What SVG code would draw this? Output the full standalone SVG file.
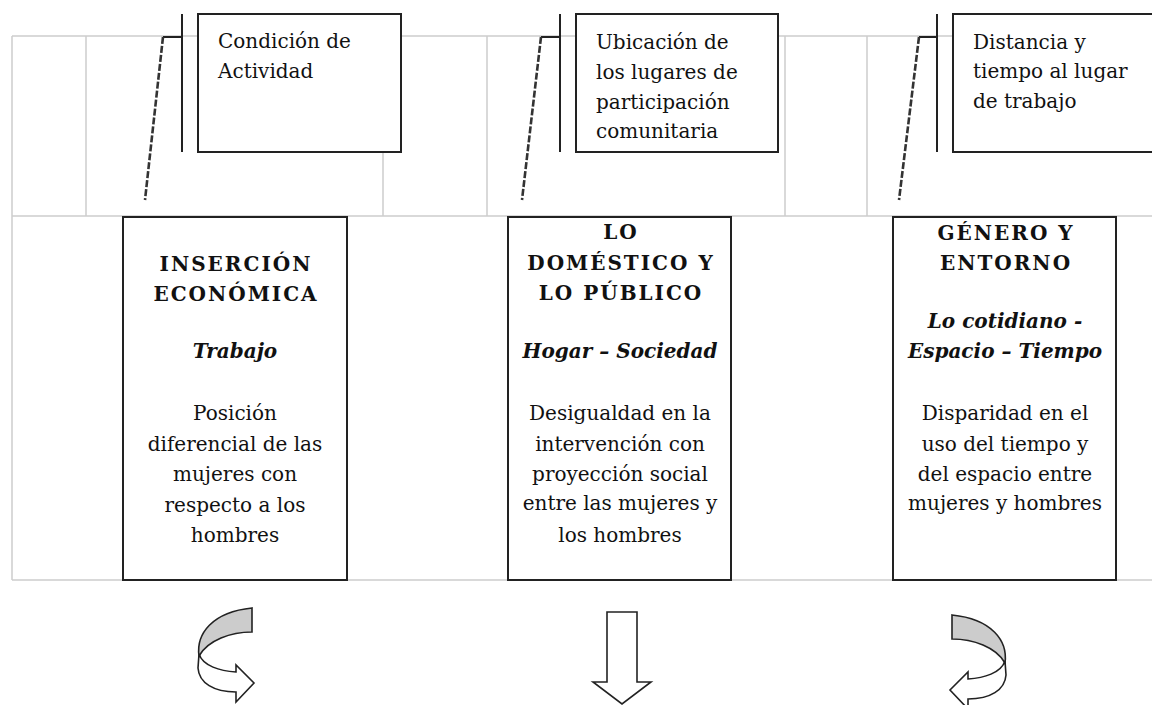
<svg xmlns="http://www.w3.org/2000/svg" width="1152" height="705" viewBox="0 0 1152 705">
<style>
.grid{stroke:#cdcdcd;stroke-width:1.5;fill:none}
.box{fill:#fff;stroke:#222;stroke-width:2}
.t{font-family:"DejaVu Serif",serif;font-size:20px;fill:#111}
.c{text-anchor:middle}
.b{font-weight:bold;letter-spacing:2px}
.bi{font-weight:bold;font-style:italic}
.lead{stroke:#222;stroke-width:2;fill:none}
.dash{stroke:#333;stroke-width:2.6;fill:none;stroke-dasharray:7 2}
.arr{stroke:#222;stroke-width:1.6;stroke-linejoin:miter}
</style>
<g id="grid">
<line class="grid" x1="12" y1="36" x2="1152" y2="36"/>
<line class="grid" x1="12" y1="216" x2="1152" y2="216"/>
<line class="grid" x1="12" y1="580" x2="1152" y2="580"/>
<line class="grid" x1="12" y1="36" x2="12" y2="580"/>
<line class="grid" x1="86" y1="36" x2="86" y2="216"/>
<line class="grid" x1="383" y1="36" x2="383" y2="216"/>
<line class="grid" x1="487" y1="36" x2="487" y2="216"/>
<line class="grid" x1="785" y1="36" x2="785" y2="216"/>
<line class="grid" x1="867" y1="36" x2="867" y2="216"/>
</g>
<g id="connectors">
<line class="lead" x1="182" y1="14" x2="182" y2="152"/>
<line class="lead" x1="163" y1="37" x2="182" y2="37"/>
<line class="dash" x1="163" y1="37" x2="145" y2="200"/>
<line class="lead" x1="560" y1="14" x2="560" y2="152"/>
<line class="lead" x1="541" y1="37" x2="560" y2="37"/>
<line class="dash" x1="541" y1="37" x2="522" y2="200"/>
<line class="lead" x1="937" y1="14" x2="937" y2="152"/>
<line class="lead" x1="919" y1="37" x2="937" y2="37"/>
<line class="dash" x1="919" y1="37" x2="899" y2="200"/>
</g>
<g id="callout1">
<rect class="box" x="198" y="14" width="203" height="138"/>
<text class="t" x="218" y="48">Condición de</text>
<text class="t" x="218" y="78">Actividad</text>
</g>
<g id="callout2">
<rect class="box" x="576" y="14" width="202" height="138"/>
<text class="t" x="596" y="49">Ubicación de</text>
<text class="t" x="596" y="79">los lugares  de</text>
<text class="t" x="596" y="109">participación</text>
<text class="t" x="596" y="138">comunitaria</text>
</g>
<g id="callout3">
<rect class="box" x="953" y="14" width="210" height="138"/>
<text class="t" x="973" y="49">Distancia y</text>
<text class="t" x="973" y="78">tiempo al lugar</text>
<text class="t" x="973" y="108">de trabajo</text>
</g>
<g id="boxA">
<rect class="box" x="123" y="217" width="224" height="363"/>
<text class="t c b" x="236" y="271">INSERCIÓN</text>
<text class="t c b" x="236" y="301">ECONÓMICA</text>
<text class="t c bi" x="235" y="358">Trabajo</text>
<text class="t c" x="235" y="420">Posición</text>
<text class="t c" x="235" y="451">diferencial de las</text>
<text class="t c" x="235" y="481">mujeres con</text>
<text class="t c" x="235" y="512">respecto a los</text>
<text class="t c" x="235" y="542">hombres</text>
</g>
<g id="boxB">
<rect class="box" x="508" y="217" width="223" height="363"/>
<text class="t c b" x="621" y="239">LO</text>
<text class="t c b" x="621" y="270">DOMÉSTICO Y</text>
<text class="t c b" x="621" y="300">LO PÚBLICO</text>
<text class="t c bi" x="620" y="358">Hogar – Sociedad</text>
<text class="t c" x="620" y="420">Desigualdad en la</text>
<text class="t c" x="620" y="451">intervención con</text>
<text class="t c" x="620" y="481">proyección social</text>
<text class="t c" x="620" y="510">entre las mujeres y</text>
<text class="t c" x="620" y="542">los hombres</text>
</g>
<g id="boxC">
<rect class="box" x="893" y="217" width="223" height="363"/>
<text class="t c b" x="1006" y="240">GÉNERO Y</text>
<text class="t c b" x="1006" y="270">ENTORNO</text>
<text class="t c bi" x="1005" y="328">Lo cotidiano -</text>
<text class="t c bi" x="1005" y="358">Espacio – Tiempo</text>
<text class="t c" x="1005" y="420">Disparidad en el</text>
<text class="t c" x="1005" y="451">uso del tiempo y</text>
<text class="t c" x="1005" y="481">del espacio entre</text>
<text class="t c" x="1005" y="510">mujeres y hombres</text>
</g>
<g id="arrowA">
<path class="arr" fill="#fff" d="M199,654 C203,666 220,671 236,672 L236,665 L254,683 L236,702 L236,692 C214,692 199,683 198,668 Z"/>
<path class="arr" fill="#cccccc" d="M252,608 L252,632 C231,632 208,640 199,656 C196,634 212,612 252,608 Z"/>
</g>
<g id="arrowB">
<path class="arr" fill="#fff" d="M607,612 L637,612 L637,682 L651,682 L622,704 L593,682 L607,682 Z"/>
</g>
<g id="arrowC">
<path class="arr" fill="#fff" d="M1005,661 C1001,673 984,678 968,679 L968,672 L950,690 L968,709 L968,699 C990,699 1005,690 1006,675 Z"/>
<path class="arr" fill="#cccccc" d="M952,615 L952,639 C973,639 996,647 1005,663 C1008,641 992,619 952,615 Z"/>
</g>
</svg>
